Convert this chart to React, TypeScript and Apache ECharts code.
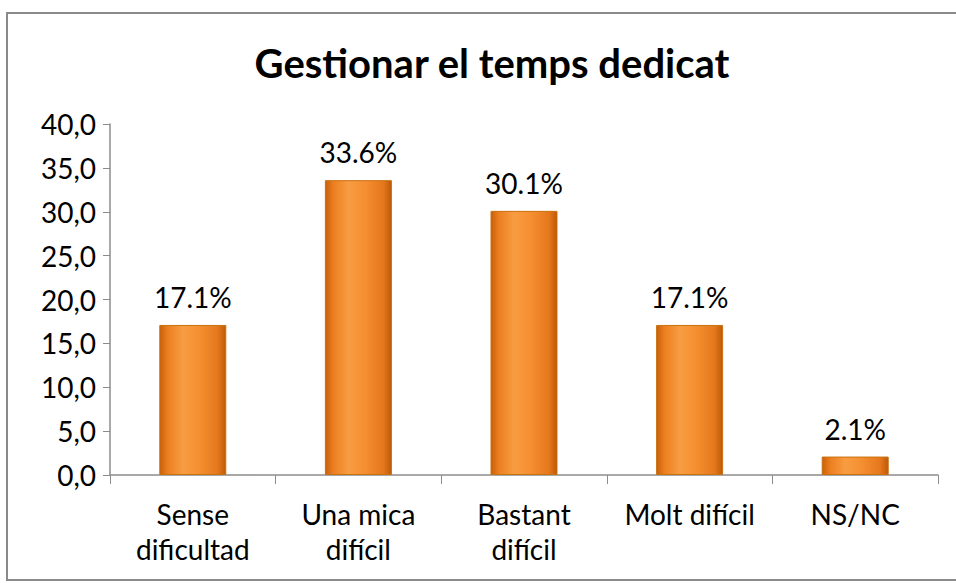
import React, { useEffect, useRef } from "react";
import * as echarts from "echarts";

const title = "Gestionar el temps dedicat";
const categories = ["Sense\ndificultad", "Una mica\ndifícil", "Bastant\ndifícil", "Molt difícil", "NS/NC"];
const values = [17.1, 33.6, 30.1, 17.1, 2.1];
const yMin = 0;
const yMax = 40;
const yInterval = 5;

export default function App() {
  const ref = useRef<HTMLDivElement>(null);
  useEffect(() => {
    if (!ref.current) return;
    const chart = echarts.init(ref.current, null, { renderer: "svg" });
    const font = "Lato, 'Open Sans', sans-serif";
    chart.setOption({
      animation: false,
      backgroundColor: "#ffffff",
      title: {
        text: title,
        left: 487,
        textAlign: "center",
        top: 38,
        textStyle: { fontFamily: font, fontSize: 40, fontWeight: "bold", color: "#000" },
      },
      graphic: [
        {
          type: "rect",
          shape: { x: 7, y: 13, width: 970, height: 567 },
          style: { fill: "none", stroke: "#8a8a8a", lineWidth: 2 },
          silent: true,
        },
      ],
      grid: { left: 110, right: 18, top: 124, bottom: 108, containLabel: false },
      xAxis: {
        type: "category",
        data: categories,
        axisLine: { lineStyle: { color: "#8c8c8c", width: 1.5 } },
        axisTick: { show: true, alignWithLabel: false, length: 9, lineStyle: { color: "#8c8c8c" } },
        axisLabel: {
          color: "#000",
          fontFamily: font,
          fontSize: 28,
          lineHeight: 35,
          margin: 21,
          interval: 0,
        },
      },
      yAxis: {
        type: "value",
        min: yMin,
        max: yMax,
        interval: yInterval,
        axisLine: { show: true, lineStyle: { color: "#8c8c8c", width: 1.5 } },
        axisTick: { show: true, length: 7, lineStyle: { color: "#8c8c8c" } },
        splitLine: { show: false },
        axisLabel: {
          color: "#000",
          fontFamily: font,
          fontSize: 28,
          margin: 14,
          formatter: (v: number) => v.toFixed(1).replace(".", ","),
        },
      },
      series: [
        {
          type: "bar",
          data: values,
          barWidth: 67,
          itemStyle: {
            color: new echarts.graphic.LinearGradient(0, 0, 1, 0, [
              { offset: 0, color: "#c8600a" },
              { offset: 0.12, color: "#ec7f20" },
              { offset: 0.35, color: "#f89c42" },
              { offset: 0.6, color: "#f58f30" },
              { offset: 0.88, color: "#e5771c" },
              { offset: 1, color: "#bd590a" },
            ]),
            borderColor: "#c9700f",
            borderWidth: 1,
          },
          label: {
            show: true,
            position: "top",
            distance: 14,
            color: "#000",
            fontFamily: font,
            fontSize: 28,
            formatter: (p: any) => p.value.toFixed(1) + "%",
          },
        },
      ],
    });
    return () => chart.dispose();
  }, []);
  return (
    <div
      ref={ref}
      style={{ position: "fixed", left: 0, top: 0, width: 956, height: 583 }}
    />
  );
}
